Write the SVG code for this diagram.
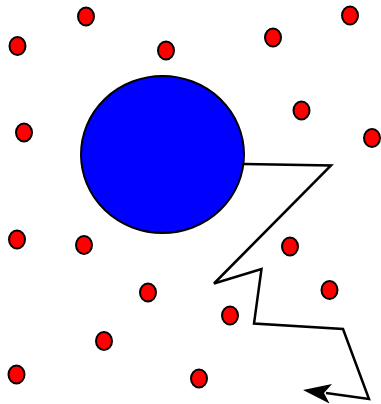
<svg xmlns="http://www.w3.org/2000/svg" width="381" height="404" viewBox="0 0 381 404">
<style>
.dot{fill:#ff0000;stroke:#000;stroke-width:2}
.big{fill:#0000ff;stroke:#000;stroke-width:2}
.conn{fill:none;stroke:#000;stroke-width:2.5;stroke-linejoin:miter}
</style>
<rect width="381" height="404" fill="#fff"/>
<g id="big-circle"><ellipse class="big" cx="162.5" cy="154.5" rx="81.5" ry="78.5"/></g>
<g id="dots">
<g id="d1"><ellipse class="dot" cx="86" cy="16.5" rx="8" ry="9"/></g>
<g id="d2"><ellipse class="dot" cx="17.5" cy="46" rx="8" ry="9"/></g>
<g id="d3"><ellipse class="dot" cx="166" cy="50.5" rx="8" ry="9"/></g>
<g id="d4"><ellipse class="dot" cx="273" cy="37.5" rx="8" ry="9"/></g>
<g id="d5"><ellipse class="dot" cx="350" cy="15.5" rx="8" ry="9"/></g>
<g id="d6"><ellipse class="dot" cx="301.5" cy="110.5" rx="8" ry="9"/></g>
<g id="d7"><ellipse class="dot" cx="372" cy="138" rx="8" ry="9"/></g>
<g id="d8"><ellipse class="dot" cx="24" cy="132.5" rx="8" ry="9"/></g>
<g id="d9"><ellipse class="dot" cx="17" cy="239.5" rx="8" ry="9"/></g>
<g id="d10"><ellipse class="dot" cx="84" cy="245" rx="8" ry="9"/></g>
<g id="d11"><ellipse class="dot" cx="290" cy="246.5" rx="8" ry="9"/></g>
<g id="d12"><ellipse class="dot" cx="148" cy="292.5" rx="8" ry="9"/></g>
<g id="d13"><ellipse class="dot" cx="230" cy="315.5" rx="8" ry="9"/></g>
<g id="d14"><ellipse class="dot" cx="329.5" cy="290" rx="8" ry="9"/></g>
<g id="d15"><ellipse class="dot" cx="104" cy="341" rx="8" ry="9"/></g>
<g id="d16"><ellipse class="dot" cx="16.5" cy="374.5" rx="8" ry="9"/></g>
<g id="d17"><ellipse class="dot" cx="199" cy="378.5" rx="8" ry="9"/></g>
</g>
<g id="connectors">
<path class="conn" d="M244,164 L331,165.5 L214,283.5 L261.5,269 L254,323.5 L343,329 L369,399 L326,393"/>
<polygon points="303,390 332,384 324,393 329.5,403.5" fill="#000"/>
</g>
</svg>
